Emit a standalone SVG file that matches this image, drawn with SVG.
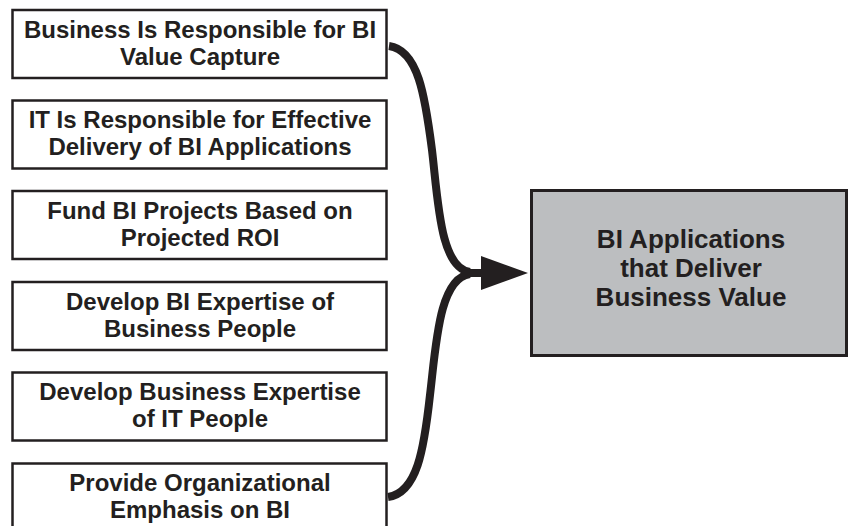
<svg xmlns="http://www.w3.org/2000/svg" width="849" height="526" viewBox="0 0 849 526">
<style>
.box{fill:#ffffff;stroke:#231f20;stroke-width:2.5}
.out{fill:#bcbec0;stroke:#231f20;stroke-width:3}
.t{font-family:"Liberation Sans",Arial,sans-serif;font-weight:bold;font-size:24px;fill:#231f20;text-anchor:middle}
.tb{font-family:"Liberation Sans",Arial,sans-serif;font-weight:bold;font-size:26px;fill:#231f20;text-anchor:middle}
.c{fill:none;stroke:#231f20;stroke-width:8;stroke-linecap:butt}
</style>
<rect width="849" height="526" fill="#ffffff"/>
<g id="n1"><rect class="box" x="12.5" y="10" width="374" height="68"/><text class="t" x="200" y="37.5">Business Is Responsible for BI</text><text class="t" x="200" y="64.5">Value Capture</text></g>
<g id="n2"><rect class="box" x="12.5" y="100.5" width="374" height="68"/><text class="t" x="200" y="128">IT Is Responsible for Effective</text><text class="t" x="200" y="155">Delivery of BI Applications</text></g>
<g id="n3"><rect class="box" x="12.5" y="191" width="374" height="68"/><text class="t" x="200" y="218.5">Fund BI Projects Based on</text><text class="t" x="200" y="245.5">Projected ROI</text></g>
<g id="n4"><rect class="box" x="12.5" y="282" width="374" height="68"/><text class="t" x="200" y="309.5">Develop BI Expertise of</text><text class="t" x="200" y="336.5">Business People</text></g>
<g id="n5"><rect class="box" x="12.5" y="372.5" width="374" height="68"/><text class="t" x="200" y="400">Develop Business Expertise</text><text class="t" x="200" y="427">of IT People</text></g>
<g id="n6"><rect class="box" x="12.5" y="463.5" width="374" height="68"/><text class="t" x="200" y="491">Provide Organizational</text><text class="t" x="200" y="518">Emphasis on BI</text></g>
<g id="out"><rect class="out" x="531.5" y="190.5" width="315" height="165"/><text class="tb" x="691" y="248">BI Applications</text><text class="tb" x="691" y="277">that Deliver</text><text class="tb" x="691" y="306">Business Value</text></g>
<g id="connectors">
<path class="c" d="M 389 46 C 418 50, 425 95, 432 150 C 438 200, 440 268, 470 272"/>
<path class="c" d="M 388 497 C 417 493, 424 450, 430 395 C 436 345, 439 278, 470 274"/>
<path class="c" d="M 462 273 L 484 273"/>
<polygon points="481,256 528,273 481,290" fill="#231f20"/>
</g>
</svg>
